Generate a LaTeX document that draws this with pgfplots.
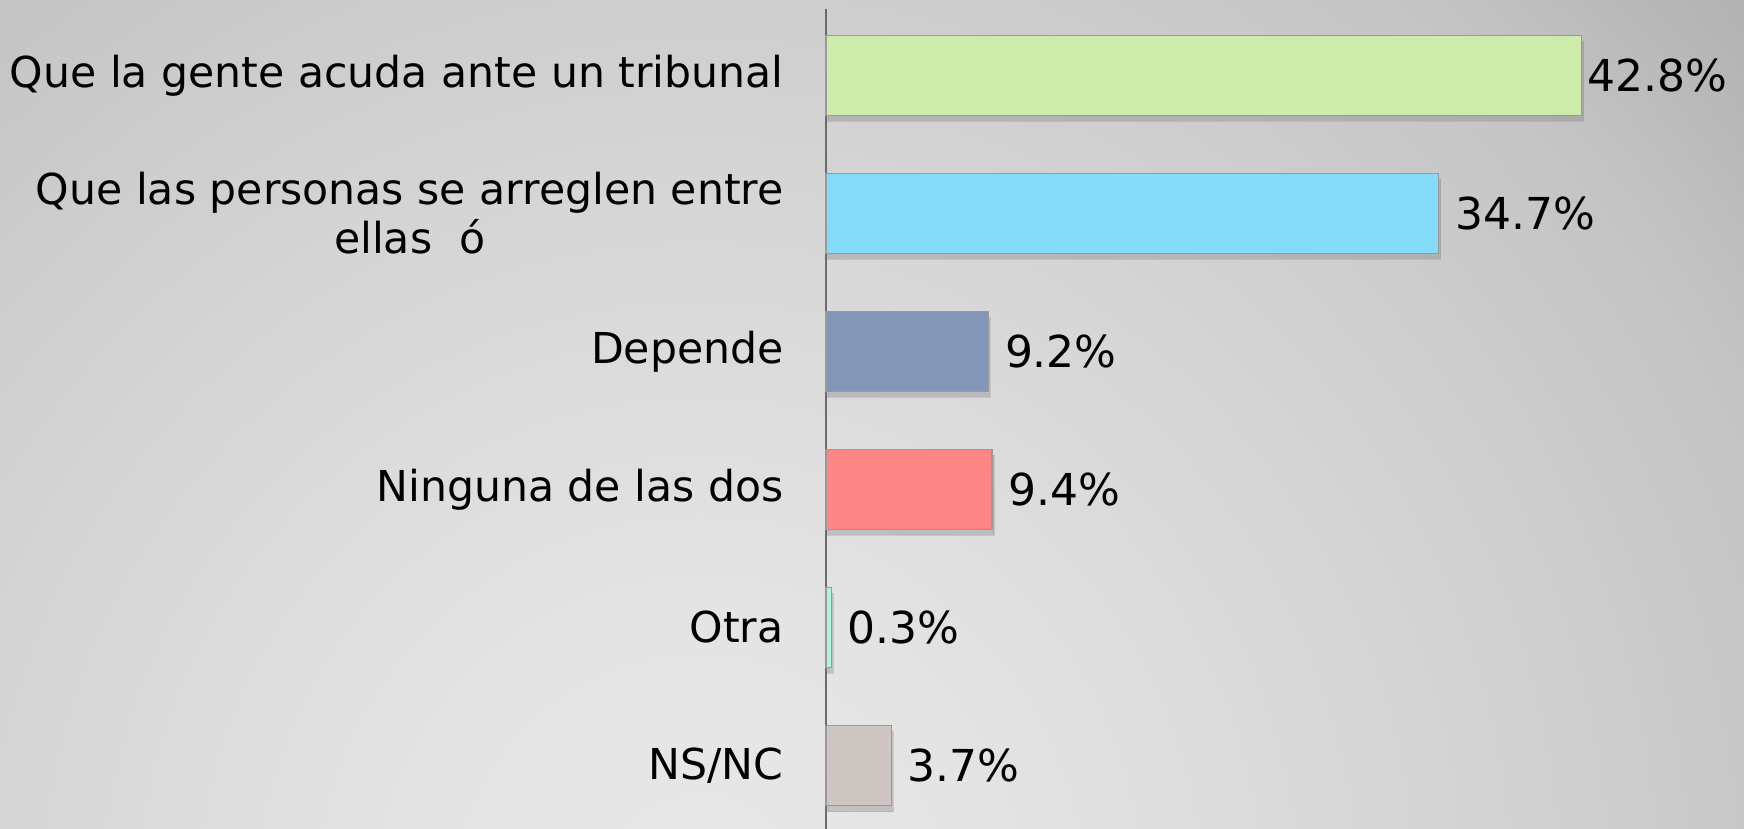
\documentclass[border=0pt]{standalone}
\usepackage{pgfplots}
\pgfplotsset{compat=1.18}
\usepackage{fontspec}
\setmainfont{DejaVu Sans}
\usetikzlibrary{shadows}
\definecolor{cA}{RGB}{205,235,170}
\definecolor{cB}{RGB}{132,219,250}
\definecolor{cC}{RGB}{131,150,184}
\definecolor{cD}{RGB}{255,134,134}
\definecolor{cE}{RGB}{175,245,220}
\definecolor{cF}{RGB}{205,198,194}
\definecolor{bg0}{RGB}{232,232,232}
\definecolor{bg1}{RGB}{228,228,228}
\definecolor{bg2}{RGB}{214,214,214}
\definecolor{bg3}{RGB}{196,196,196}
\definecolor{bg4}{RGB}{176,176,176}
\definecolor{bg5}{RGB}{150,150,150}
\pgfdeclareradialshading{bgshade}{\pgfpoint{0bp}{0bp}}{color(0bp)=(bg0); color(5bp)=(bg1); color(12.5bp)=(bg2); color(20.5bp)=(bg3); color(25bp)=(bg4); color(50bp)=(bg5)}
\begin{document}
\begin{tikzpicture}
\useasboundingbox (-413pt,0) rectangle (459pt,414.5pt);
\begin{scope}
\clip (-413pt,0) rectangle (459pt,414.5pt);
\shade[shading=bgshade] (-763pt,-735.5pt) rectangle (637pt,664.5pt);
\end{scope}
\begin{axis}[
  at={(0,0)}, anchor=south west,
  scale only axis, width=459pt, height=410pt,
  xbar, bar width=40pt, bar shift=0pt,
  y dir=reverse,
  xmin=0, xmax=52, ymin=-0.48, ymax=5.46,
  axis lines=left, axis line style={-},
  x axis line style={draw=none},
  y axis line style={draw=gray!85!black, line width=0.8pt},
  xtick=\empty,
  ytick={0,1,2,3,4,5},
  yticklabels={{Que la gente acuda ante un tribunal},{Que las personas se arreglen entre\\ellas~~ó},Depende,Ninguna de las dos,Otra,NS/NC},
  major tick length=0pt,
  yticklabel style={font=\fontsize{21.3}{24.5}\selectfont, align=center, inner sep=0pt, xshift=-21pt, text=black},
  /pgf/number format/assume math mode=true,
  nodes near coords={\pgfmathprintnumber[fixed,precision=1,fixed zerofill]{\pgfplotspointmeta}\%},
  every node near coord/.append style={font=\fontsize{22}{25}\selectfont, anchor=west, inner sep=0pt, xshift=8pt, text=black},
  every axis plot/.append style={draw=gray!80, line width=0.6pt, drop shadow={shadow xshift=1pt, shadow yshift=-3pt, opacity=0.35}},
  clip=false,
]
\addplot[fill=cA, every node near coord/.append style={xshift=-5.5pt}] coordinates {(42.8,0)};
\addplot[fill=cB] coordinates {(34.7,1)};
\addplot[fill=cC] coordinates {(9.2,2)};
\addplot[fill=cD] coordinates {(9.4,3)};
\addplot[fill=cE] coordinates {(0.3,4)};
\addplot[fill=cF] coordinates {(3.7,5)};
\end{axis}
\end{tikzpicture}
\end{document}
